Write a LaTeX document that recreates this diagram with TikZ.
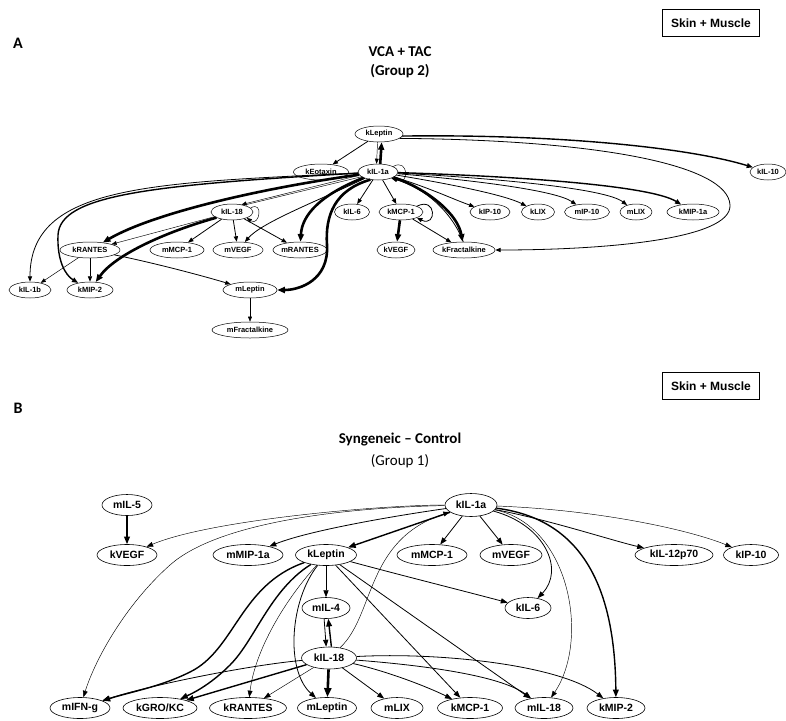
\documentclass[tikz,border=0pt]{standalone}
\usepackage{fontspec}
\setmainfont{Liberation Sans}
\newfontfamily\titlefont{Carlito}
\usetikzlibrary{shapes.geometric,arrows.meta}
\begin{document}
\begin{tikzpicture}[x=1pt,y=-1pt,
 na/.style={ellipse,draw,line width=0.5pt,inner sep=0pt,minimum height=16pt,font=\bfseries\fontsize{7.5}{8}\selectfont},
 nb/.style={ellipse,draw,line width=0.6pt,inner sep=0pt,minimum height=21pt,font=\bfseries\fontsize{10.5}{11}\selectfont},
 ta/.style={-{Triangle[length=4.5pt 1.2,width=3.4pt 1]}},
 tb/.style={-{Triangle[length=6pt 1.2,width=4.4pt 1]}},
 l1/.style={line width=0.45pt}, l2/.style={line width=0.8pt}, l3/.style={line width=1.4pt}, l4/.style={line width=2.6pt},
 boxlab/.style={draw,line width=0.7pt,minimum width=97pt,minimum height=27pt,inner sep=0pt,font=\bfseries\fontsize{12}{12}\selectfont},
 ttl/.style={font=\titlefont\bfseries\fontsize{15}{15}\selectfont,inner sep=0pt},
 ]
\useasboundingbox (0,0) rectangle (786,720);
% ---------- Panel A titles ----------
\node[font=\titlefont\bfseries\fontsize{16}{16}\selectfont,inner sep=0pt] (labA) at (18,43) {A};
\node[ttl] (titA1) at (400,52) {VCA + TAC};
\node[ttl] (titA2) at (400,71) {(Group 2)};
\node[boxlab] (boxA) at (711,23) {Skin + Muscle};
% ---------- Panel A nodes ----------
\node[na,minimum width=48pt] (AkLeptin) at (379,134) {kLeptin};
\node[na,minimum width=55pt] (AkEotaxin) at (321,172) {kEotaxin};
\node[na,minimum width=40pt] (AkIL1a) at (378,172) {kIL-1a};
\node[na,minimum width=36pt] (AkIL10) at (768,172) {kIL-10};
\node[na,minimum width=35pt] (AkIL6) at (352,212) {kIL-6};
\node[na,minimum width=44pt] (AkMCP1) at (401,212) {kMCP-1};
\node[na,minimum width=40pt] (AkIP10) at (490,212) {kIP-10};
\node[na,minimum width=33pt] (AkLIX) at (538,212) {kLIX};
\node[na,minimum width=45pt] (AmIP10) at (587,212) {mIP-10};
\node[na,minimum width=32pt] (AmLIX) at (636,212) {mLIX};
\node[na,minimum width=52pt] (AkMIP1a) at (693,212) {kMIP-1a};
\node[na,minimum width=42pt] (AkIL18) at (232,212) {kIL-18};
\node[na,minimum width=54pt] (AmMCP1) at (177,250) {mMCP-1};
\node[na,minimum width=50pt] (AmVEGF) at (238,250) {mVEGF};
\node[na,minimum width=54pt] (AmRANTES) at (300,250) {mRANTES};
\node[na,minimum width=38pt] (AkVEGF) at (396,250) {kVEGF};
\node[na,minimum width=62pt] (AkFract) at (464,250) {kFractalkine};
\node[na,minimum width=60pt] (AkRANTES) at (90,250) {kRANTES};
\node[na,minimum width=42pt] (AkIL1b) at (30,290) {kIL-1b};
\node[na,minimum width=46pt] (AkMIP2) at (90,290) {kMIP-2};
\node[na,minimum width=54pt] (AmLeptin) at (250,290) {mLeptin};
\node[na,minimum width=76pt] (AmFract) at (250,330) {mFractalkine};
% ---------- Panel A edges ----------
\draw[ta,l2] (AkLeptin) -- (AkEotaxin);
\draw[ta,l1] (AkLeptin.-100) -- (AkIL1a.100);
\draw[ta,l4] (AkIL1a.75) -- (AkLeptin.-72);
\draw[ta,l1] (AkIL1a.20) .. controls +(16,-9) and +(16,9) .. (AkIL1a.-20);
\draw[ta,l3] (AkLeptin.-5) .. controls (560,134) and (690,148) .. (AkIL10);
\draw[ta,l2] (AkLeptin.-12) .. controls (600,140) and (728,165) .. (730,205) .. controls (732,240) and (600,250) .. (AkFract);
\draw[ta,l2] (AkIL1a) -- (AkIL6);
\draw[ta,l2] (AkIL1a) -- (AkMCP1);
\draw[ta,l2] (AkIL1a) .. controls (430,188) and (455,200) .. (AkIP10);
\draw[ta,l2] (AkIL1a) .. controls (450,184) and (505,195) .. (AkLIX);
\draw[ta,l2] (AkIL1a) .. controls (470,180) and (555,190) .. (AmIP10);
\draw[ta,l2] (AkIL1a) .. controls (490,178) and (605,188) .. (AmLIX);
\draw[ta,l3] (AkIL1a) .. controls (510,176) and (650,185) .. (AkMIP1a);
\draw[ta,l4] (AkIL1a) .. controls (430,190) and (458,215) .. (AkFract.100);
\draw[ta,l2] (AkFract.95) .. controls (452,212) and (425,188) .. (AkIL1a.-25);
\draw[ta,l2] (AkMCP1.20) .. controls +(20,-10) and +(20,10) .. (AkMCP1.-20);
\draw[ta,l4] (AkMCP1) -- (AkVEGF);
\draw[ta,l2] (AkMCP1) -- (AkFract);
\draw[ta,l1] (AkIL1a.190) -- (AkIL18.38);
\draw[l1] (AkIL1a.196) -- (AkIL18.30);
\draw[ta,l1] (AkIL18.12) .. controls +(13,-8) and +(13,9) .. (AkIL18.-22);
\draw[ta,l2] (AkIL18) -- (AmMCP1);
\draw[ta,l2] (AkIL18) -- (AmVEGF);
\draw[ta,l2] (AkIL18) -- (AmRANTES);
\draw[ta,l1] (AkIL18) -- (AkRANTES);
\draw[ta,l4] (AkIL18.200) .. controls (165,232) and (115,255) .. (AkMIP2);
\draw[ta,l2] (AkIL1a) .. controls (320,200) and (262,222) .. (AmVEGF);
\draw[ta,l4] (AkIL1a) .. controls (320,195) and (302,215) .. (AmRANTES);
\draw[ta,l4] (AkIL1a.-135) .. controls (335,190) and (325,215) .. (327,245) .. controls (329,280) and (300,290) .. (AmLeptin);
\draw[ta,l4] (AkIL1a) .. controls (250,190) and (150,215) .. (AkRANTES);
\draw[ta,l3] (AkIL1a) .. controls (150,185) and (60,195) .. (58,235) .. controls (57,260) and (65,275) .. (AkMIP2);
\draw[ta,l2] (AkIL1a) .. controls (150,183) and (30,185) .. (AkIL1b);
\draw[ta,l1] (AkRANTES) -- (AkIL1b);
\draw[ta,l2] (AkRANTES) -- (AkMIP2);
\draw[ta,l2] (AkRANTES) .. controls (150,262) and (200,275) .. (AmLeptin);
\draw[ta,l1] (AmLeptin) -- (AmFract);
% ---------- Panel B titles ----------
\node[font=\titlefont\bfseries\fontsize{16}{16}\selectfont,inner sep=0pt] (labB) at (18,408) {B};
\node[ttl] (titB1) at (400,440) {Syngeneic – Control};
\node[font=\titlefont\fontsize{15}{15}\selectfont,inner sep=0pt] (titB2) at (400,461) {(Group 1)};
\node[boxlab] (boxB) at (711,386) {Skin + Muscle};
% ---------- Panel B nodes ----------
\node[nb,minimum width=50pt] (BmIL5) at (127,505) {mIL-5};
\node[nb,minimum width=60pt] (BkVEGF) at (127,555) {kVEGF};
\node[nb,minimum width=70pt] (BmMIP1a) at (248,555) {mMIP-1a};
\node[nb,minimum width=61pt] (BkLeptin) at (326,555) {kLeptin};
\node[nb,minimum width=52pt,minimum height=23pt] (BkIL1a) at (471,505) {kIL-1a};
\node[nb,minimum width=70pt] (BmMCP1) at (432,555) {mMCP-1};
\node[nb,minimum width=62pt] (BmVEGF) at (511,555) {mVEGF};
\node[nb,minimum width=78pt] (BkIL12) at (674,555) {kIL-12p70};
\node[nb,minimum width=55pt] (BkIP10) at (751,555) {kIP-10};
\node[nb,minimum width=46pt] (BkIL6) at (528,608) {kIL-6};
\node[nb,minimum width=48pt] (BmIL4) at (326,608) {mIL-4};
\node[nb,minimum width=55pt,minimum height=22pt] (BkIL18) at (329,658) {kIL-18};
\node[nb,minimum width=60pt] (BmIFNg) at (80,708) {mIFN-g};
\node[nb,minimum width=74pt] (BkGRO) at (160,708) {kGRO/KC};
\node[nb,minimum width=77pt] (BkRANTES) at (248,708) {kRANTES};
\node[nb,minimum width=59pt] (BmLeptin) at (327,708) {mLeptin};
\node[nb,minimum width=52pt] (BmLIX) at (397,708) {mLIX};
\node[nb,minimum width=65pt] (BkMCP1) at (470,708) {kMCP-1};
\node[nb,minimum width=58pt] (BmIL18) at (544,708) {mIL-18};
\node[nb,minimum width=58pt] (BkMIP2) at (616,708) {kMIP-2};
% ---------- Panel B edges ----------
\draw[tb,l3] (BmIL5) -- (BkVEGF);
\draw[tb,l1] (BkIL1a) .. controls (380,505) and (210,520) .. (BkVEGF);
\draw[tb,l1] (BkIL1a) .. controls (330,508) and (215,525) .. (170,565) .. controls (125,605) and (95,660) .. (BmIFNg);
\draw[tb,l2] (BkIL1a) .. controls (400,515) and (310,530) .. (BmMIP1a);
\draw[tb,l3] (BkIL1a) -- (BkLeptin);
\draw[tb,l2] (BkIL1a) -- (BmMCP1);
\draw[tb,l2] (BkIL1a) -- (BmVEGF);
\draw[tb,l2] (BkIL1a) .. controls (550,520) and (610,540) .. (BkIL12);
\draw[tb,l1] (BkIL1a) .. controls (600,510) and (690,530) .. (BkIP10);
\draw[tb,l2] (BkIL1a) .. controls (545,525) and (565,570) .. (BkIL6);
\draw[tb,l1] (BkIL1a) .. controls (570,525) and (590,640) .. (BmIL18);
\draw[tb,l3] (BkIL1a) .. controls (590,520) and (615,600) .. (BkMIP2);
\draw[tb,l1] (BkIL18) .. controls (375,615) and (365,540) .. (BkIL1a);
\draw[tb,l2] (BkLeptin) -- (BmIL4);
\draw[tb,l2] (BkLeptin) .. controls (400,575) and (460,590) .. (BkIL6);
\draw[tb,l3] (BkLeptin) .. controls (240,585) and (235,650) .. (190,672) .. controls (160,687) and (130,692) .. (BmIFNg);
\draw[tb,l3] (BkLeptin) .. controls (270,590) and (255,640) .. (230,665) .. controls (215,680) and (200,690) .. (BkGRO);
\draw[tb,l1] (BkLeptin) .. controls (285,600) and (255,650) .. (BkRANTES);
\draw[tb,l2] (BkLeptin) .. controls (290,600) and (285,670) .. (BmLeptin);
\draw[tb,l2] (BkLeptin) -- (BkMCP1);
\draw[tb,l2] (BkLeptin) -- (BmIL18);
\draw[tb,l2] (BmIL4.-100) -- (BkIL18.104);
\draw[tb,l3] (BkIL18.78) -- (BmIL4.-78);
\draw[tb,l2] (BkIL18) .. controls (250,665) and (150,685) .. (BmIFNg);
\draw[tb,l3] (BkIL18) -- (BkGRO);
\draw[tb,l1] (BkIL18) -- (BkRANTES);
\draw[tb,l4] (BkIL18) -- (BmLeptin);
\draw[tb,l2] (BkIL18) -- (BmLIX);
\draw[tb,l2] (BkIL18) .. controls (390,672) and (430,688) .. (BkMCP1);
\draw[tb,l2] (BkIL18) .. controls (420,665) and (500,675) .. (BmIL18);
\draw[tb,l2] (BkIL18) .. controls (440,652) and (560,665) .. (BkMIP2);
\end{tikzpicture}
\end{document}
